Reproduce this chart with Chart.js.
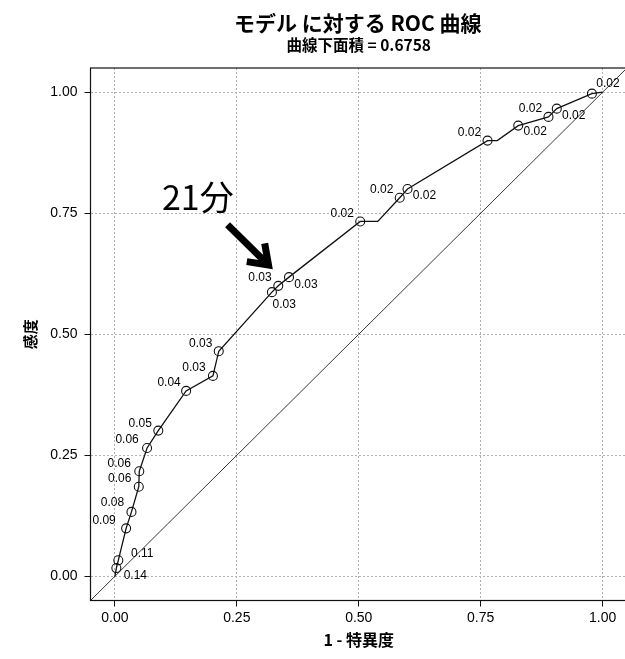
<!DOCTYPE html>
<html>
<head>
<meta charset="utf-8">
<script src="https://cdn.jsdelivr.net/npm/chart.js@4"></script>
<style>
  html, body { margin: 0; padding: 0; background: #fff; overflow: hidden; }
  #wrap { width: 640px; height: 659px; }
</style>
</head>
<body>
<div id="wrap"><canvas id="roc" width="640" height="659"></canvas></div>
<script>
// ROC curve: false positive rate (1 - specificity) and sensitivity at each cutoff
const fpr = [0, 0.003, 0.007, 0.023, 0.034, 0.049, 0.050, 0.066, 0.089, 0.146, 0.201, 0.213, 0.322, 0.335, 0.357, 0.503, 0.539, 0.584, 0.600, 0.764, 0.784, 0.827, 0.889, 0.906, 0.978, 1];
const tpr = [0, 0.017, 0.033, 0.099, 0.133, 0.185, 0.217, 0.265, 0.301, 0.383, 0.414, 0.465, 0.587, 0.600, 0.618, 0.733, 0.733, 0.782, 0.800, 0.900, 0.900, 0.931, 0.949, 0.966, 0.997, 1];
const cutoffs = [null, '0.14', '0.11', '0.09', '0.08', '0.06', '0.06', '0.06', '0.05', '0.04', '0.03', '0.03', '0.03', '0.03', '0.03', '0.02', null, '0.02', '0.02', '0.02', null, '0.02', '0.02', '0.02', '0.02', null];

// where each cutoff label sits relative to its marker (pixels)
const labelOffsets = [null, [19, 8], [24, -7], [-22, -8], [-19, -9], [-19, -8], [-20, -8], [-20, -8], [-18, -7], [-17, -8], [-19, -8], [-18, -8], [-12, -14], [6, 19], [17, 8], [-18, -8], null, [-18, -8], [17, 7], [-18, -8], null, [17, 6], [-18, -8], [17, 7], [16, -10], null];

const axisTicks = [0, 0.25, 0.5, 0.75, 1];
const axisTickLabels = ['0.00', '0.25', '0.50', '0.75', '1.00'];
const axisLimits = [-0.05, 1.05];

const chartTitle = 'モデル に対する ROC 曲線';
const chartSubtitle = '曲線下面積 = 0.6758';
const xTitle = '1 - 特異度';
const yTitle = '感度';

// callout text and arrow, in data units
const noteText = '21分';
const noteAt = [0.170, 0.784];
const arrowFrom = [0.231, 0.726];
const arrowTo = [0.315, 0.643];

const CJK = '"Noto Sans CJK JP", "Noto Sans", sans-serif';
const LATIN = '"Liberation Sans", Arial, sans-serif';

const curve = fpr.map((x, i) => ({ x: x, y: tpr[i] }));
const diagonal = axisLimits.map(v => ({ x: v, y: v }));

const panelPlugin = {
  id: 'panel',
  afterDatasetsDraw(chart) {
    const { ctx, chartArea: a, scales } = chart;
    const xs = scales.x, ys = scales.y;

    // panel border
    ctx.save();
    ctx.strokeStyle = '#111';
    ctx.lineWidth = 1.2;
    ctx.strokeRect(a.left, a.top, a.right - a.left, a.bottom - a.top);

    // cutoff labels next to their markers
    const meta = chart.getDatasetMeta(0);
    ctx.font = '12px ' + LATIN;
    ctx.fillStyle = '#000';
    ctx.textAlign = 'center';
    ctx.textBaseline = 'middle';
    cutoffs.forEach((c, i) => {
      if (!c) return;
      const p = meta.data[i];
      const o = labelOffsets[i];
      ctx.fillText(c, p.x + o[0], p.y + o[1]);
    });

    // callout note
    ctx.font = '34px ' + CJK;
    ctx.fillStyle = '#000';
    ctx.fillText(noteText, xs.getPixelForValue(noteAt[0]), ys.getPixelForValue(noteAt[1]));

    // arrow
    const x1 = xs.getPixelForValue(arrowFrom[0]), y1 = ys.getPixelForValue(arrowFrom[1]);
    const x2 = xs.getPixelForValue(arrowTo[0]), y2 = ys.getPixelForValue(arrowTo[1]);
    const ang = Math.atan2(y2 - y1, x2 - x1);
    const head = 22, spread = 0.62;
    ctx.strokeStyle = '#000';
    ctx.lineWidth = 7;
    ctx.lineCap = 'butt';
    ctx.lineJoin = 'miter';
    ctx.beginPath();
    ctx.moveTo(x1, y1);
    ctx.lineTo(x2 - 3 * Math.cos(ang), y2 - 3 * Math.sin(ang));
    ctx.stroke();
    ctx.beginPath();
    ctx.moveTo(x2 - head * Math.cos(ang - spread), y2 - head * Math.sin(ang - spread));
    ctx.lineTo(x2, y2);
    ctx.lineTo(x2 - head * Math.cos(ang + spread), y2 - head * Math.sin(ang + spread));
    ctx.stroke();
    ctx.restore();
  },
  afterDraw(chart) {
    const { ctx, chartArea: a } = chart;
    const cx = (a.left + a.right) / 2;
    ctx.save();
    ctx.fillStyle = '#000';
    ctx.textAlign = 'center';
    ctx.textBaseline = 'middle';
    ctx.font = 'bold 21px ' + CJK;
    ctx.fillText(chartTitle, cx - 1, 23);
    ctx.font = 'bold 15.5px ' + CJK;
    ctx.fillText(chartSubtitle, cx, 45);
    ctx.restore();
  }
};

const gridCommon = {
  color: '#b0b0b0',
  lineWidth: 1,
  drawTicks: true,
  tickLength: 6,
  tickColor: '#111',
  tickWidth: 1
};

new Chart(document.getElementById('roc'), {
  type: 'scatter',
  data: {
    datasets: [
      {
        data: curve,
        showLine: true,
        borderColor: '#111',
        borderWidth: 1.3,
        pointRadius: cutoffs.map(c => c ? 4.5 : 0),
        pointHoverRadius: cutoffs.map(c => c ? 4.5 : 0),
        pointBackgroundColor: 'rgba(0,0,0,0)',
        pointBorderColor: '#111',
        pointBorderWidth: 1.1,
        tension: 0
      },
      {
        data: diagonal,
        showLine: true,
        borderColor: '#222',
        borderWidth: 0.9,
        pointRadius: 0,
        clip: 0
      }
    ]
  },
  options: {
    responsive: false,
    animation: false,
    events: [],
    layout: { padding: { top: 68, right: 13, left: 0, bottom: 0 } },
    plugins: {
      legend: { display: false },
      tooltip: { enabled: false }
    },
    scales: {
      x: {
        type: 'linear',
        min: axisLimits[0],
        max: axisLimits[1],
        afterBuildTicks: s => { s.ticks = axisTicks.map(v => ({ value: v })); },
        afterFit: s => { s.height = 58.5; },
        ticks: {
          callback: (v) => axisTickLabels[axisTicks.indexOf(v)],
          font: { family: LATIN, size: 14 },
          color: '#000',
          padding: 3,
          maxRotation: 0
        },
        grid: gridCommon,
        border: { display: false, dash: [2, 2] },
        title: {
          display: true,
          text: xTitle,
          font: { family: CJK, size: 16, weight: 'bold' },
          color: '#000',
          padding: { top: 0, bottom: 9 }
        }
      },
      y: {
        type: 'linear',
        min: axisLimits[0],
        max: axisLimits[1],
        afterBuildTicks: s => { s.ticks = axisTicks.map(v => ({ value: v })); },
        afterFit: s => { s.width = 90.5; },
        ticks: {
          callback: (v) => axisTickLabels[axisTicks.indexOf(v)],
          font: { family: LATIN, size: 14 },
          color: '#000',
          padding: 7
        },
        grid: gridCommon,
        border: { display: false, dash: [2, 2] },
        title: {
          display: true,
          text: yTitle,
          font: { family: CJK, size: 15, weight: 'bold' },
          color: '#000',
          padding: { top: 21, bottom: 0 }
        }
      }
    }
  },
  plugins: [panelPlugin]
});
</script>
</body>
</html>
